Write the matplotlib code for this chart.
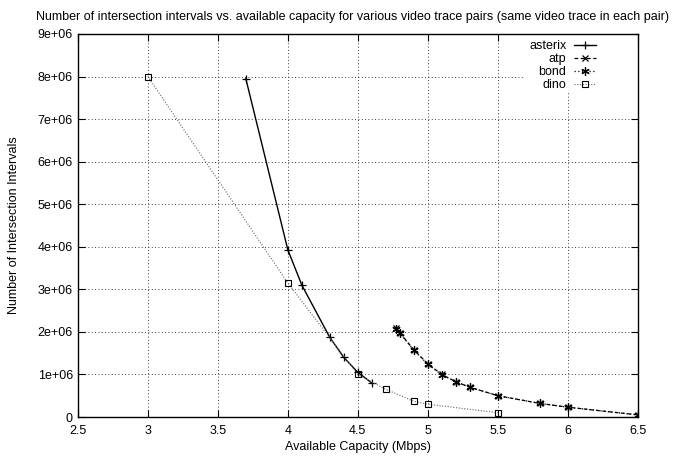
import numpy as np
import matplotlib.pyplot as plt
from matplotlib.patches import Rectangle
from matplotlib.ticker import FuncFormatter, MultipleLocator

plt.rcParams['font.family'] = ['Liberation Sans', 'DejaVu Sans']
plt.rcParams['font.size'] = 9

# Datos
asterix_x = [3.7, 4.0, 4.1, 4.3, 4.4, 4.5, 4.6]
asterix_y = [7.95e6, 3.93e6, 3.1e6, 1.87e6, 1.4e6, 1.05e6, 0.8e6]

atp_x = [4.77, 4.8, 4.9, 5.0, 5.1, 5.2, 5.3, 5.5, 5.8, 6.0, 6.5]
atp_y = [2.08e6, 1.98e6, 1.58e6, 1.25e6, 1.0e6, 0.83e6, 0.70e6, 0.5e6, 0.32e6, 0.23e6, 0.05e6]

bond_x = [4.77, 4.8, 4.9, 5.0, 5.1, 5.2, 5.3, 5.5, 5.8, 6.0, 6.5]
bond_y = [2.06e6, 1.97e6, 1.57e6, 1.24e6, 0.99e6, 0.83e6, 0.70e6, 0.5e6, 0.32e6, 0.23e6, 0.05e6]

dino_x = [3.0, 4.0, 4.5, 4.7, 4.9, 5.0, 5.5]
dino_y = [8.0e6, 3.15e6, 1.0e6, 0.65e6, 0.37e6, 0.3e6, 0.1e6]

fig = plt.figure(figsize=(6.77, 4.59), dpi=100)
ax = fig.add_axes([0.115, 0.0915, 0.827, 0.8345])
ax.set_axisbelow(True)

ax.plot(asterix_x, asterix_y, color='black', lw=1.0, marker='+', ms=6, mew=0.9, label='asterix', zorder=3)
ax.plot(atp_x, atp_y, color='black', lw=0.9, ls=(0, (3, 2)), marker='x', ms=5, mew=0.9, label='atp', zorder=3)
ax.plot(bond_x, bond_y, color='black', lw=0.9, ls=(0, (1, 2)), marker=(6, 2, 0), ms=6, mew=0.9,
        label='bond', zorder=3)
ax.plot(dino_x, dino_y, color='#666666', lw=0.8, ls=(0, (1, 1.5)), marker='s', ms=5,
        mfc='none', mec='black', mew=0.8, label='dino', zorder=3)

ax.set_xlim(2.5, 6.5)
ax.set_ylim(0, 9e6)
ax.xaxis.set_major_locator(MultipleLocator(0.5))
ax.yaxis.set_major_locator(MultipleLocator(1e6))
ax.xaxis.set_major_formatter(FuncFormatter(lambda v, p: f'{v:g}'))
ax.yaxis.set_major_formatter(FuncFormatter(lambda v, p: '0' if v == 0 else f'{v:.0e}'))

ax.grid(True, color='black', ls=(0, (1, 3)), lw=0.6)
ax.tick_params(direction='in', top=True, right=True, length=5, width=0.8, labelsize=9)
ax.tick_params(axis='x', pad=6)
for s in ax.spines.values():
    s.set_linewidth(1.0)

ax.set_xlabel('Available Capacity (Mbps)', fontsize=9)
ax.set_ylabel('Number of Intersection Intervals', fontsize=9)
ax.xaxis.set_label_coords(0.5, -0.063)
ax.yaxis.set_label_coords(-0.104, 0.5)
fig.text(0.52, 0.963, 'Number of intersection intervals vs. available capacity for various video trace pairs '
         '(same video trace in each pair)', ha='center', va='center', fontsize=9)

# fondo blanco de la leyenda (tapa la rejilla, como en gnuplot)
ax.add_patch(Rectangle((0.795, 0.846), 0.205, 0.154, transform=ax.transAxes,
                       facecolor='white', edgecolor='none', zorder=1))

leg = ax.legend(loc='upper right', bbox_to_anchor=(0.925, 0.984), markerfirst=False, frameon=False,
                borderpad=0, borderaxespad=0, handlelength=1.7, handletextpad=0.65,
                labelspacing=0.08, fontsize=9)
for t in leg.get_texts():
    t.set_ha('right')

fig.savefig('out.png', dpi=100)
